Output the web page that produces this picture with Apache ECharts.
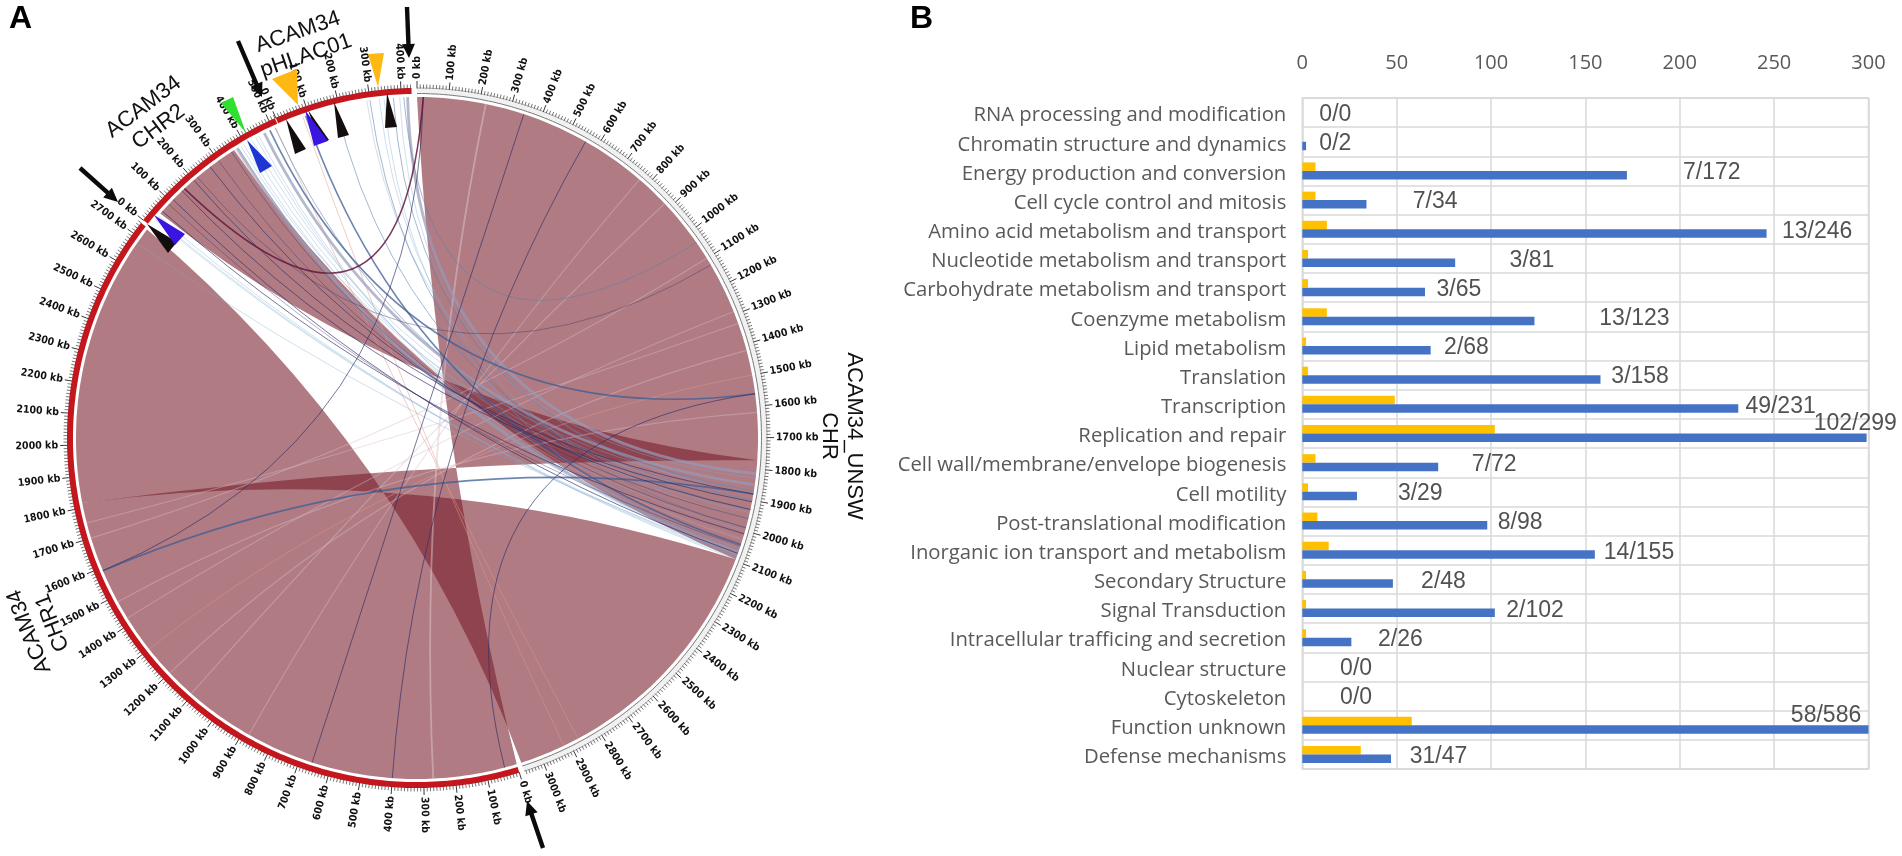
<!DOCTYPE html>
<html><head><meta charset="utf-8">
<style>html,body{margin:0;padding:0;background:#fff}#c{width:1902px;height:856px}</style>
<script src="https://cdn.jsdelivr.net/npm/echarts@6/dist/echarts.min.js"></script>
</head><body><div id="c"></div>
<script>
// ---------- Panel B data ----------
const categories = ['RNA processing and modification','Chromatin structure and dynamics','Energy production and conversion','Cell cycle control and mitosis','Amino acid metabolism and transport','Nucleotide metabolism and transport','Carbohydrate metabolism and transport','Coenzyme metabolism','Lipid metabolism','Translation','Transcription','Replication and repair','Cell wall/membrane/envelope biogenesis','Cell motility','Post-translational modification','Inorganic ion transport and metabolism','Secondary Structure','Signal Transduction','Intracellular trafficing and secretion','Nuclear structure','Cytoskeleton','Function unknown','Defense mechanisms'];
const plasmidCounts = [0,0,7,7,13,3,3,13,2,3,49,102,7,3,8,14,2,2,2,0,0,58,31];
const genomeCounts  = [0,2,172,34,246,81,65,123,68,158,231,299,72,29,98,155,48,102,26,0,0,586,47];
const ratioLabels = categories.map((c,i)=>plasmidCounts[i]+'/'+genomeCounts[i]);
const ratioLabelAt = [17.5,17.5,217,70.4,272.8,121.7,83,176,87,179,253.4,293,101.7,62.5,115.4,178.4,74.8,123.3,52,28.5,28.5,277.5,72.2];
// ---------- Panel A data (kb) ----------
const chromNames = ['U','A','B','P'];
const chromLengths = [3066,2740,520,433];
const chromStarts = [0,3081,5832,6355];
const genomeCircle = 6805;
const ribbons = [['U',0,1772,'A',0,1815],['U',2095,3066,'A',1815,2735],['U',1772,2095,'B',50,360]];
const darkLinks = [['U',345,'A',660],['U',560,'A',400],['U',1560,'A',40],['U',20,'A',1590],['U',1930,'B',267],['U',1905,'B',150],['U',2010,'B',60],['U',2075,'B',110],['U',1880,'B',200]];
const faintDarkLinks = [['U',1125,'B',215],['U',1990,'B',350],['U',1960,'B',300],['U',2050,'B',90]];
const maroonLinks = [['U',20,'B',160]];
const steelLinks = [['U',1560,'B',490],['A',1590,'U',1880],['P',90,'U',2045]];
const softSteelLinks = [['U',1040,'P',408],['P',190,'U',1930],['B',508,'U',1900],['P',300,'U',1990],['U',1870,'P',375]];
const thickGreyLinks = [['U',1850,'B',470],['U',2070,'B',372],['U',1815,'P',420]];
const lightBlueLinks = [['P',290,'U',1830],['P',330,'U',1960],['P',345,'U',2080],['P',395,'U',1880],['B',360,'U',2080],['B',375,'U',2050],['B',385,'U',1900],['B',395,'U',2000],['B',410,'U',1940],['B',425,'U',1870],['B',440,'U',2025],['B',450,'U',2060],['B',30,'U',2085],['B',25,'U',2090],['B',40,'U',2095],['A',2680,'U',2080]];
const paleWideLinks = [['U',220,'A',270]];
const paleLinks = [['U',770,'A',880],['U',880,'A',1105],['U',1290,'A',1420],['U',1620,'A',1480],['U',1100,'A',1700],['U',1420,'A',1200],['U',1330,'A',1750]];
const pinkLinks = [['P',80,'U',2920],['B',510,'U',2870],['B',365,'U',2030],['A',1300,'U',1500]];

// ---------- geometry ----------
const CX=417, CY=438, R_RIBBON=341, R_BAND0=344, R_BAND1=350, R_TICK=353.5, R_MAJOR=357, R_LABEL=359, AX_MAX=380;
const KB_DEG = 360/genomeCircle;
const FLIP_FROM = 180;
// how far each ribbon edge's curve control point sits from the circle centre
const ribbonBends = [[[18,0],[0,20]],[[0,20],[-13,9]],[[0,-20],[10,-13]]];
const pos=(c,kb)=>chromStarts[chromNames.indexOf(c)]+kb;
const linkData=l=>l.map(d=>[pos(d[0],d[1]),pos(d[2],d[3])]);
const fmt=p=>p[0].toFixed(1)+' '+p[1].toFixed(1);
function arc(api,r,a,b,first){
  const n=Math.max(2,Math.ceil(Math.abs(b-a)*KB_DEG/0.75));
  let d='';
  for(let i=0;i<=n;i++){
    const p=api.coord([r,a+(b-a)*i/n]);
    d+=(i===0&&first?'M':'L')+fmt(p);
  }
  return d;
}
function ribbonItem(params,api){
  const a1=api.value(0),a2=api.value(1),b1=api.value(2),b2=api.value(3);
  const c=api.coord([0,0]),bend=ribbonBends[params.dataIndex];
  const c1=[c[0]+bend[0][0],c[1]+bend[0][1]],c2=[c[0]+bend[1][0],c[1]+bend[1][1]];
  const d=arc(api,R_RIBBON,a1,a2,true)+'Q'+fmt(c2)+' '+fmt(api.coord([R_RIBBON,b2]))+arc(api,R_RIBBON,b2,b1,false)+'Q'+fmt(c1)+' '+fmt(api.coord([R_RIBBON,a1]))+'Z';
  return {type:'path',shape:{pathData:d},style:{fill:'rgba(119,28,42,0.58)',stroke:'none'}};
}
// chords between nearby positions bow less: their control point leaves the centre
function linkControl(api,a,b){
  let da=(b-a)*KB_DEG;
  da=((da%360)+360)%360;
  let mid,span;
  if(da<=180){span=da;mid=a+(b-a>=0?b-a:(b-a+genomeCircle))/2;}
  else{span=360-da;mid=b+((a-b)>=0?(a-b):(a-b+genomeCircle))/2;}
  const shift=Math.max(0,90-span)*1.0;
  return api.coord([shift,((mid%genomeCircle)+genomeCircle)%genomeCircle]);
}
function linkSeries(list,color,width){
  return {type:'custom',coordinateSystem:'polar',silent:true,z:3,data:linkData(list),
    renderItem(params,api){
      const a=api.value(0),b=api.value(1),c=linkControl(api,a,b);
      const d='M'+fmt(api.coord([R_RIBBON,a]))+'Q'+fmt(c)+' '+fmt(api.coord([R_RIBBON,b]));
      return {type:'path',shape:{pathData:d},style:{fill:'none',stroke:color,lineWidth:width}};
    }};
}
const bandData=chromNames.map((c,i)=>[chromStarts[i],chromStarts[i]+chromLengths[i],i]);
const tickData=[];
chromNames.forEach((c,i)=>{for(let kb=0;kb<=chromLengths[i];kb+=10){tickData.push([chromStarts[i]+kb,kb%100===0?1:0]);}});
const labelData=[];
chromNames.forEach((c,i)=>{for(let kb=0;kb<=chromLengths[i];kb+=100){labelData.push([chromStarts[i]+kb,kb]);}});

// ---------- annotations (pixel drawing of hand-placed pointers) ----------
function tri(p,fill){return {type:'polygon',z:20,silent:true,shape:{points:p},style:{fill}};}
function arrow(x1,y1,x2,y2){
  const L=Math.hypot(x2-x1,y2-y1),ux=(x2-x1)/L,uy=(y2-y1)/L,nx=-uy,ny=ux,hl=14,hw=6.5,sw=2.2;
  const bx=x2-ux*hl,by=y2-uy*hl;
  return {type:'polygon',z:21,silent:true,shape:{points:[[x1+nx*sw,y1+ny*sw],[bx+nx*sw,by+ny*sw],[bx+nx*hw,by+ny*hw],[x2,y2],[bx-nx*hw,by-ny*hw],[bx-nx*sw,by-ny*sw],[x1-nx*sw,y1-ny*sw]]},style:{fill:'#0d0a0a'}};
}
function note(t,x,y,deg){return {type:'text',z:22,silent:true,x,y,rotation:deg*Math.PI/180,style:{text:t,align:'center',verticalAlign:'middle',fontFamily:'"Liberation Sans"',fontSize:22,lineHeight:25,fill:'#111'}};}
const graphics=[
 tri([[272,79],[297,69],[298,105]],'#fdb813'),tri([[368,54],[384,53],[378,87]],'#fdb813'),tri([[221,103],[233,97],[246,133]],'#2fe02f'),
 tri([[286,119],[295,154],[306,149]],'#140d0d'),tri([[308,110],[329,140],[320,143]],'#140d0d'),tri([[305,110],[314,146],[328,141]],'#3a14e0'),
 tri([[334,102],[338,138],[349,135]],'#140d0d'),tri([[387,93],[385,128],[397,127]],'#140d0d'),tri([[247,140],[260,173],[272,166]],'#1f35d0'),
 tri([[147,224],[177,242],[168,253]],'#140d0d'),tri([[154,215],[185,234],[175,245]],'#3a14e0'),
 arrow(80,168,118,202),arrow(238,41,262,97),arrow(407,7,409,58),arrow(543,848,527,801),
 note('ACAM34\nCHR2',151,117,37),note('ACAM34\npHLAC01',302,44,19),note('ACAM34\nCHR1',41,627,111),note('ACAM34_UNSW\nCHR',842,436,-90),
 {type:'text',z:22,silent:true,x:9,y:3,style:{text:'A',fontFamily:'"Liberation Sans"',fontWeight:'bold',fontSize:32,fill:'#000'}},
 {type:'text',z:22,silent:true,x:910,y:3,style:{text:'B',fontFamily:'"Liberation Sans"',fontWeight:'bold',fontSize:32,fill:'#000'}}
];

const option={
 backgroundColor:'#fff',animation:false,
 polar:{center:[CX,CY],radius:AX_MAX},
 angleAxis:{type:'value',min:0,max:genomeCircle,startAngle:90,clockwise:true,show:false},
 radiusAxis:{type:'value',min:0,max:AX_MAX,show:false},
 grid:{left:1302.3,right:33.5,top:98,bottom:87,show:true,borderColor:'#d9d9d9',borderWidth:1.5,backgroundColor:'transparent'},
 xAxis:{type:'value',position:'top',min:0,max:300,interval:50,
   axisLine:{show:false},axisTick:{show:false},
   axisLabel:{color:'#595959',fontFamily:'"Open Sans"',fontSize:20,margin:25},
   splitLine:{show:true,lineStyle:{color:'#d9d9d9',width:1.5}}},
 yAxis:{type:'category',inverse:true,data:categories,
   axisLine:{show:false},axisTick:{show:false},
   axisLabel:{interval:0,margin:16,formatter:'{c|{value}}',
     rich:{c:{color:'#595959',fontFamily:'"Open Sans"',fontSize:20.3,padding:[6,0,0,0]}}},
   splitLine:{show:true,interval:0,lineStyle:{color:'#d9d9d9',width:1.5}}},
 graphic:{elements:graphics},
 series:[
  {type:'bar',name:'plasmid',data:plasmidCounts,barWidth:8.5,barGap:0,itemStyle:{color:'#ffc000'},silent:true,z:2},
  {type:'bar',name:'genome',data:genomeCounts,barWidth:8.5,barGap:0,itemStyle:{color:'#4472c4'},silent:true,z:2},
  {type:'scatter',data:ratioLabelAt.map((x,i)=>[x,i]),symbolSize:0,silent:true,clip:false,z:5,
   label:{show:true,position:'inside',formatter:p=>ratioLabels[p.dataIndex],fontFamily:'"Liberation Sans"',fontSize:23,color:'#262626'},
   labelLayout:p=>{return {dy:(p.dataIndex===11||p.dataIndex===21)?-10:2};}},
  {type:'custom',coordinateSystem:'polar',silent:true,z:1,data:ribbons.map(r=>[pos(r[0],r[1]),pos(r[0],r[2]),pos(r[3],r[4]),pos(r[3],r[5])]),renderItem:ribbonItem},
  linkSeries(pinkLinks,'rgba(226,150,135,0.55)',0.9),
  linkSeries(paleLinks,'rgba(216,190,200,0.42)',1.1),
  linkSeries(paleWideLinks,'rgba(222,200,210,0.5)',1.8),
  linkSeries(lightBlueLinks,'rgba(125,170,210,0.42)',0.9),
  linkSeries(thickGreyLinks,'rgba(150,155,185,0.7)',2.8),
  linkSeries(softSteelLinks,'rgba(95,125,170,0.55)',1),
  linkSeries(steelLinks,'rgba(62,92,150,0.75)',1.6),
  linkSeries(faintDarkLinks,'rgba(48,45,100,0.38)',1),
  linkSeries(darkLinks,'rgba(48,45,100,0.66)',1),
  linkSeries(maroonLinks,'rgba(96,24,60,0.85)',1.5),
  {type:'custom',coordinateSystem:'polar',silent:true,z:4,data:bandData,renderItem(params,api){
     const a=api.value(0),b=api.value(1),i=api.value(2);
     const d=arc(api,R_BAND0,a,b,true)+arc(api,R_BAND1,b,a,false)+'Z';
     if(i===0){
       return {type:'group',children:[
        {type:'path',shape:{pathData:d},style:{fill:'#f1f1f1',stroke:'none'}},
        {type:'path',shape:{pathData:arc(api,R_BAND0+0.5,a,b,true)},style:{fill:'none',stroke:'#7d7d7d',lineWidth:1}},
        {type:'path',shape:{pathData:arc(api,R_BAND1,a,b,true)},style:{fill:'none',stroke:'#9a9a9a',lineWidth:0.8}}]};
     }
     return {type:'path',shape:{pathData:d},style:{fill:'#c5161d',stroke:'none'}};
  }},
  {type:'custom',coordinateSystem:'polar',silent:true,z:4,data:tickData,renderItem(params,api){
     const a=api.value(0),big=api.value(1);
     const p=api.coord([R_BAND1-0.5,a]),q=api.coord([big?R_MAJOR:R_TICK,a]);
     return {type:'line',shape:{x1:p[0],y1:p[1],x2:q[0],y2:q[1]},style:{stroke:'#3a3a3a',lineWidth:big?1:0.7}};
  }},
  {type:'custom',coordinateSystem:'polar',silent:true,z:4,data:labelData,renderItem(params,api){
     const a=api.value(0),kb=api.value(1),deg=a*KB_DEG;
     const p=api.coord([R_LABEL,a]),flip=deg>FLIP_FROM;
     const rot=((90-deg)+(flip?180:0))*Math.PI/180;
     return {type:'text',x:p[0],y:p[1],rotation:rot,style:{text:kb+' kb',align:flip?'right':'left',verticalAlign:'middle',fontFamily:'"DejaVu Sans Condensed","DejaVu Sans"',fontWeight:'bold',fontSize:10.5,fill:'#111'}};
  }}
 ]
};
echarts.init(document.getElementById('c'),null,{renderer:'canvas'}).setOption(option);
</script></body></html>
